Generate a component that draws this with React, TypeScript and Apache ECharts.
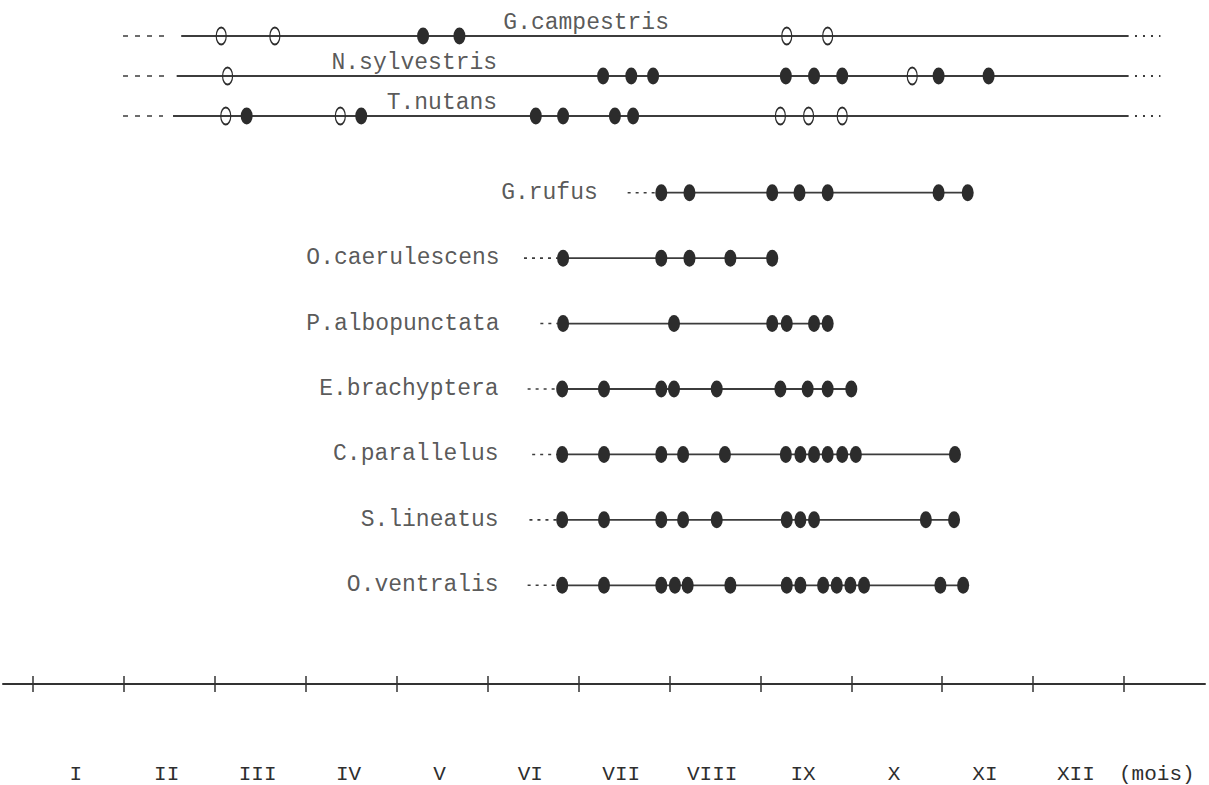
import React, { useEffect, useRef } from "react";
import * as echarts from "echarts";

// ---- data (months, 0 = start of January) ----
const topRows = ["G.campestris", "N.sylvestris", "T.nutans"];
const topFilled = [
  [4.29, 4.69],
  [6.27, 6.58, 6.82, 8.28, 8.59, 8.9, 9.96, 10.51],
  [2.35, 3.61, 5.53, 5.83, 6.4, 6.6],
];
const topOpen = [
  [2.07, 2.66, 8.29, 8.74],
  [2.14, 9.67],
  [2.12, 3.38, 8.22, 8.53, 8.9],
];
const topLineStart = [1.63, 1.58, 1.54];
const topLineEnd = [12.05, 12.05, 12.05];
const topLeadStart = [0.99, 0.99, 0.99];
const topLeadEnd = [1.5, 1.48, 1.43];
const topTailEnd = [12.4, 12.4, 12.4];
const topLabelAt = [7.0, 5.11, 5.11];

const rows = [
  "G.rufus",
  "O.caerulescens",
  "P.albopunctata",
  "E.brachyptera",
  "C.parallelus",
  "S.lineatus",
  "O.ventralis",
];
const rowFilled = [
  [6.91, 7.22, 8.13, 8.43, 8.74, 9.96, 10.28],
  [5.83, 6.91, 7.22, 7.67, 8.13],
  [5.83, 7.05, 8.13, 8.29, 8.59, 8.74],
  [5.82, 6.28, 6.91, 7.05, 7.52, 8.22, 8.52, 8.74, 9.0],
  [5.82, 6.28, 6.91, 7.15, 7.61, 8.28, 8.44, 8.59, 8.74, 8.9, 9.05, 10.14],
  [5.82, 6.28, 6.91, 7.15, 7.52, 8.29, 8.44, 8.59, 9.82, 10.13],
  [5.82, 6.28, 6.91, 7.06, 7.2, 7.67, 8.29, 8.44, 8.69, 8.84, 8.99, 9.14, 9.98, 10.23],
];
const rowLeadStart = [6.54, 5.4, 5.58, 5.44, 5.49, 5.46, 5.44];

const monthTicks = [0, 1, 2, 3, 4, 5, 6, 7, 8, 9, 10, 11, 12];
const monthNames = ["I", "II", "III", "IV", "V", "VI", "VII", "VIII", "IX", "X", "XI", "XII"];
const unitLabel = "(mois)";

const X_MIN = -0.33;
const X_MAX = 12.89;

const INK = "#2c2c2c";
const LINE = "#3c3c3c";
const TEXT = "#2e2e2e";
const FONT = "'Liberation Mono', 'DejaVu Sans Mono', monospace";
const ELLIPSE = "path://M50,0 A50,50 0 1,1 50,100 A50,50 0 1,1 50,0 Z";

export default function App() {
  const ref = useRef<HTMLDivElement>(null);

  useEffect(() => {
    if (!ref.current) return;
    const chart = echarts.init(ref.current, null, { renderer: "svg" });

    const series: any[] = [];
    const seg = (grid: number, name: string, a: number, b: number, style: any) => ({
      type: "line",
      xAxisIndex: grid === 0 ? 0 : 1,
      yAxisIndex: grid,
      data: [
        [a, name],
        [b, name],
      ],
      symbol: "none",
      silent: true,
      lineStyle: style,
      z: 2,
    });

    // top rows
    topRows.forEach((name, i) => {
      series.push(seg(0, name, topLeadStart[i], topLeadEnd[i], { color: LINE, width: 1.6, type: [5, 7] }));
      series.push(seg(0, name, topLineStart[i], topLineEnd[i], { color: LINE, width: 1.8 }));
      series.push(seg(0, name, topLineEnd[i] + 0.07, topTailEnd[i], { color: LINE, width: 2, type: [2, 6] }));
    });
    series.push({
      type: "scatter",
      xAxisIndex: 0,
      yAxisIndex: 0,
      symbol: ELLIPSE,
      symbolSize: [12, 17],
      itemStyle: { color: INK, opacity: 1 },
      data: topRows.flatMap((name, i) => topFilled[i].map((v) => [v, name])),
      z: 4,
    });
    series.push({
      type: "scatter",
      xAxisIndex: 0,
      yAxisIndex: 0,
      symbol: ELLIPSE,
      symbolSize: [10, 17],
      itemStyle: { color: "rgba(0,0,0,0)", borderColor: INK, borderWidth: 1.5, opacity: 1 },
      data: topRows.flatMap((name, i) => topOpen[i].map((v) => [v, name])),
      z: 4,
    });
    series.push({
      type: "scatter",
      xAxisIndex: 0,
      yAxisIndex: 0,
      symbolSize: 1,
      itemStyle: { color: "rgba(0,0,0,0)" },
      label: {
        show: true,
        position: [0, -13],
        align: "right",
        verticalAlign: "middle",
        formatter: (p: any) => p.value[1],
        fontFamily: FONT,
        fontSize: 23,
        color: TEXT,
      },
      data: topRows.map((name, i) => [topLabelAt[i], name]),
      z: 5,
    });

    // lower rows
    rows.forEach((name, i) => {
      const f = rowFilled[i];
      series.push(seg(1, name, rowLeadStart[i], f[0] - 0.06, { color: LINE, width: 1.6, type: [3, 5] }));
      series.push(seg(1, name, f[0], f[f.length - 1], { color: LINE, width: 1.8 }));
    });
    series.push({
      type: "scatter",
      xAxisIndex: 1,
      yAxisIndex: 1,
      symbol: ELLIPSE,
      symbolSize: [12, 17],
      itemStyle: { color: INK, opacity: 1 },
      data: rows.flatMap((name, i) => rowFilled[i].map((v) => [v, name])),
      z: 4,
    });
    series.push({
      type: "scatter",
      xAxisIndex: 1,
      yAxisIndex: 1,
      symbolSize: 1,
      itemStyle: { color: "rgba(0,0,0,0)" },
      label: {
        show: true,
        position: "left",
        distance: 63,
        formatter: (p: any) => p.value[1],
        fontFamily: FONT,
        fontSize: 23,
        color: TEXT,
      },
      data: rows.map((name, i) => [rowFilled[i][0], name]),
      z: 5,
    });

    const labelValues = [...monthNames.map((_, k) => k + 0.47), 12.36];

    chart.setOption({
      animation: false,
      backgroundColor: "#ffffff",
      grid: [
        { left: 3, width: 1202, top: 16, height: 120 },
        { left: 3, width: 1202, top: 160, height: 461 },
      ],
      xAxis: [
        { gridIndex: 0, type: "value", min: X_MIN, max: X_MAX, show: false },
        {
          gridIndex: 1,
          type: "value",
          min: X_MIN,
          max: X_MAX,
          position: "bottom",
          offset: 66,
          axisLine: { show: true, lineStyle: { color: "#333333", width: 2 } },
          axisTick: {
            show: true,
            customValues: monthTicks,
            length: 8,
            inside: false,
            lineStyle: { color: "#333333", width: 1.5 },
          },
          axisLabel: {
            show: true,
            customValues: labelValues,
            margin: 80,
            fontFamily: FONT,
            fontSize: 21,
            color: TEXT,
            formatter: (v: number) => {
              const k = Math.floor(v);
              return k < monthNames.length ? monthNames[k] : unitLabel;
            },
          },
          splitLine: { show: false },
        },
        {
          gridIndex: 1,
          type: "value",
          min: X_MIN,
          max: X_MAX,
          position: "bottom",
          offset: 66,
          axisLine: { show: false },
          axisTick: {
            show: true,
            customValues: monthTicks,
            length: 8,
            inside: true,
            lineStyle: { color: "#333333", width: 1.5 },
          },
          axisLabel: { show: false },
          splitLine: { show: false },
        },
      ],
      yAxis: [
        { gridIndex: 0, type: "category", data: topRows, inverse: true, show: false },
        { gridIndex: 1, type: "category", data: rows, inverse: true, show: false },
      ],
      series,
    });

    return () => chart.dispose();
  }, []);

  return (
    <div
      ref={ref}
      style={{ position: "absolute", left: 0, top: 0, width: 1209, height: 785, background: "#fff" }}
    />
  );
}
